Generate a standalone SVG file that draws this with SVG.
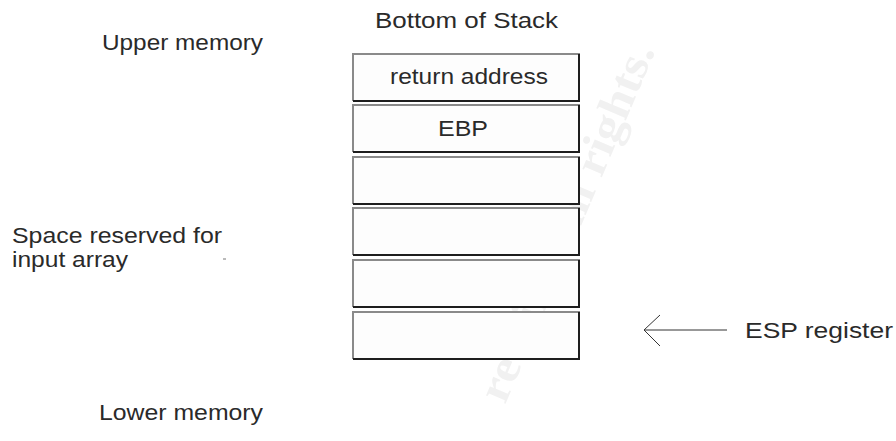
<svg xmlns="http://www.w3.org/2000/svg" width="896" height="441" viewBox="0 0 896 441">
<style>
.t{font-family:"Liberation Sans",Arial,sans-serif;font-size:22px;fill:#2a2a2a}
.box{fill:#fdfdfd;stroke:none}
.lt{fill:none;stroke:#8a8a8a;stroke-width:2}
.dk{fill:none;stroke:#1e1e1e;stroke-width:2}
.wm{font-family:"Liberation Serif","Times New Roman",serif;font-weight:bold;font-size:46px;fill:#f1f1f1}
.conn{fill:none;stroke:#333;stroke-width:1}
</style>
<rect width="896" height="441" fill="#ffffff"/>
<text class="wm" transform="translate(505,405) rotate(-67)" textLength="385" lengthAdjust="spacingAndGlyphs">retains full rights.</text>
<g id="label-bottom"><text class="t" x="375" y="28" textLength="183" lengthAdjust="spacingAndGlyphs">Bottom of Stack</text></g>
<g id="label-upper"><text class="t" x="102" y="50" textLength="161" lengthAdjust="spacingAndGlyphs">Upper memory</text></g>
<g id="label-lower"><text class="t" x="99" y="420" textLength="164" lengthAdjust="spacingAndGlyphs">Lower memory</text></g>
<g id="label-space">
<text class="t" x="12" y="243" textLength="210" lengthAdjust="spacingAndGlyphs">Space reserved for</text>
<text class="t" x="12" y="267" textLength="116" lengthAdjust="spacingAndGlyphs">input array</text>
<line x1="223" y1="259" x2="226" y2="259" stroke="#777" stroke-width="1"/>
</g>
<g id="slot1"><rect class="box" x="352" y="53" width="228" height="48"/><path class="lt" d="M353,101V54H580"/><path class="dk" d="M353,101H579V54"/><text class="t" x="390" y="84" textLength="158" lengthAdjust="spacingAndGlyphs">return address</text></g>
<g id="slot2"><rect class="box" x="352" y="104" width="228" height="48"/><path class="lt" d="M353,152V105H580"/><path class="dk" d="M353,152H579V105"/><text class="t" x="438" y="136" textLength="50" lengthAdjust="spacingAndGlyphs">EBP</text></g>
<g id="slot3"><rect class="box" x="352" y="156" width="228" height="48"/><path class="lt" d="M353,204V157H580"/><path class="dk" d="M353,204H579V157"/></g>
<g id="slot4"><rect class="box" x="352" y="207" width="228" height="48"/><path class="lt" d="M353,255V208H580"/><path class="dk" d="M353,255H579V208"/></g>
<g id="slot5"><rect class="box" x="352" y="259" width="228" height="48"/><path class="lt" d="M353,307V260H580"/><path class="dk" d="M353,307H579V260"/></g>
<g id="slot6"><rect class="box" x="352" y="311" width="228" height="48"/><path class="lt" d="M353,359V312H580"/><path class="dk" d="M353,359H579V312"/></g>
<g id="label-esp"><text class="t" x="745" y="338" textLength="148" lengthAdjust="spacingAndGlyphs">ESP register</text></g>
<g id="connectors">
<line class="conn" x1="644" y1="330" x2="727" y2="330"/>
<polyline class="conn" points="660,315 644,330 660,346"/>
</g>
</svg>
